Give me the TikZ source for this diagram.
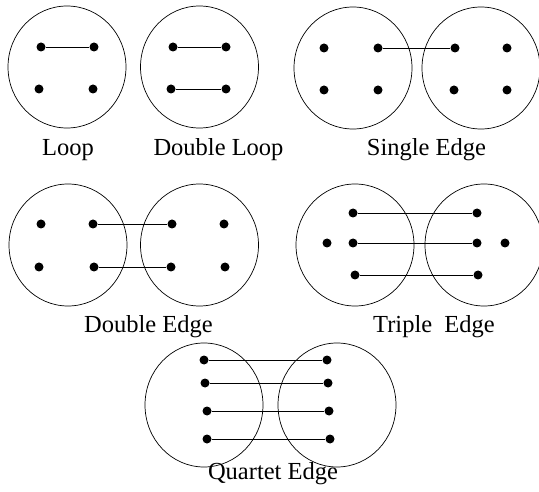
\documentclass[tikz,border=0pt]{standalone}
\usepackage{fontspec}
\setmainfont{Liberation Serif}
\usetikzlibrary{shapes.geometric}
\begin{document}
\begin{tikzpicture}[x=1pt,y=-1pt,
  dot/.style={circle,fill=black,inner sep=0pt,minimum size=9pt},
  ring/.style={draw=black,line width=0.7pt},
  edge/.style={draw=black,line width=0.8pt},
  lab/.style={anchor=base,inner sep=0pt,font=\fontsize{24.5}{29}\selectfont}]
\useasboundingbox[fill=white] (0,0) rectangle (539,492);
% ---------- Loop ----------
\draw[ring] (67,67) ellipse [x radius=59pt, y radius=61pt];
\node[dot] (L1) at (41,47) {};
\node[dot] (L2) at (94,47) {};
\node[dot] (L3) at (39,89) {};
\node[dot] (L4) at (93,89) {};
\draw[edge] (L1) -- (L2);
\node[lab] (tL) at (68,156) {Loop};
% ---------- Double Loop ----------
\draw[ring] (199.5,67) ellipse [x radius=59pt, y radius=61pt];
\node[dot] (D1) at (173,47) {};
\node[dot] (D2) at (226,47) {};
\node[dot] (D3) at (171,89) {};
\node[dot] (D4) at (226,89) {};
\draw[edge] (D1) -- (D2);
\draw[edge] (D3) -- (D4);
\node[lab] (tD) at (218.5,156) {Double Loop};
% ---------- Single Edge ----------
\draw[ring] (353,68) ellipse [x radius=59pt, y radius=61pt];
\draw[ring] (481,68) ellipse [x radius=59pt, y radius=61pt];
\node[dot] (S1) at (324,48) {};
\node[dot] (S2) at (378,48) {};
\node[dot] (S3) at (324,90) {};
\node[dot] (S4) at (378,90) {};
\node[dot] (S5) at (455,48) {};
\node[dot] (S6) at (507,48) {};
\node[dot] (S7) at (454,90) {};
\node[dot] (S8) at (507,90) {};
\draw[edge] (S2) -- (S5);
\node[lab] (tS) at (426.5,156) {Single Edge};
% ---------- Double Edge ----------
\draw[ring] (68,245) ellipse [x radius=59pt, y radius=61pt];
\draw[ring] (199.5,245) ellipse [x radius=59pt, y radius=61pt];
\node[dot] (E1) at (41,224) {};
\node[dot] (E2) at (93,224) {};
\node[dot] (E3) at (39,267) {};
\node[dot] (E4) at (94,267) {};
\node[dot] (E5) at (172,224) {};
\node[dot] (E6) at (224,224) {};
\node[dot] (E7) at (171,267) {};
\node[dot] (E8) at (225,267) {};
\draw[edge] (E2) -- (E5);
\draw[edge] (E4) -- (E7);
\node[lab] (tE) at (148.5,333) {Double Edge};
% ---------- Triple Edge ----------
\draw[ring] (355,245) ellipse [x radius=59pt, y radius=61pt];
\draw[ring] (484,245) ellipse [x radius=59pt, y radius=61pt];
\node[dot] (T1) at (353,213) {};
\node[dot] (T2) at (327,243) {};
\node[dot] (T3) at (353,243) {};
\node[dot] (T4) at (355,275) {};
\node[dot] (T5) at (477,213) {};
\node[dot] (T6) at (477,243) {};
\node[dot] (T7) at (505,243) {};
\node[dot] (T8) at (478,275) {};
\draw[edge] (T1) -- (T5);
\draw[edge] (T3) -- (T6);
\draw[edge] (T4) -- (T8);
\node[lab] (tT) at (434,333) {Triple\ \ Edge};
% ---------- Quartet Edge ----------
\draw[ring] (204,405) ellipse [x radius=59pt, y radius=62pt];
\draw[ring] (337,405) ellipse [x radius=59pt, y radius=62pt];
\node[dot] (Q1) at (204,360) {};
\node[dot] (Q2) at (205,383) {};
\node[dot] (Q3) at (207,411) {};
\node[dot] (Q4) at (207,439) {};
\node[dot] (Q5) at (327,360) {};
\node[dot] (Q6) at (328,383) {};
\node[dot] (Q7) at (329,411) {};
\node[dot] (Q8) at (330,439) {};
\draw[edge] (Q1) -- (Q5);
\draw[edge] (Q2) -- (Q6);
\draw[edge] (Q3) -- (Q7);
\draw[edge] (Q4) -- (Q8);
\node[lab] (tQ) at (273,479) {Quartet Edge};
\end{tikzpicture}
\end{document}
